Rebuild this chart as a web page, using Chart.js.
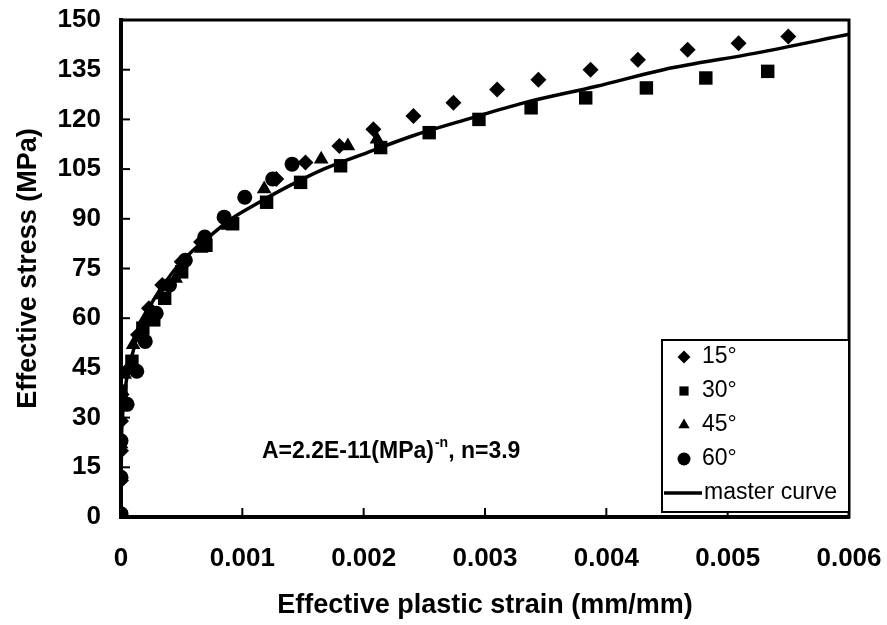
<!DOCTYPE html>
<html>
<head>
<meta charset="utf-8">
<script src="https://cdn.jsdelivr.net/npm/chart.js@4.4.0/dist/chart.umd.min.js"></script>
<style>
    html, body { margin: 0; padding: 0; background: #fff; }
    #wrap { width: 887px; height: 625px; }
</style>
</head>
<body>
<div id="wrap"><canvas id="chart"></canvas></div>
<script>
// values (strain in mm/mm, stress in MPa)
const strain15 = [0, 0, 0, 0, 0.000005, 0.00007, 0.00014, 0.00023, 0.00034, 0.0005, 0.00066, 0.00088, 0.00128, 0.00152, 0.0018, 0.00208, 0.00241, 0.00274, 0.0031, 0.00344, 0.00387, 0.00426, 0.00467, 0.00509, 0.0055];
const stress15 = [0, 11, 20, 29, 37, 45, 55, 63, 70, 77, 83, 89, 102, 107, 112, 117, 121, 125, 129, 132, 135, 138, 141, 143, 145];

const strain30 = [0, 0, 0.00009, 0.00018, 0.00027, 0.00036, 0.0005, 0.0007, 0.00092, 0.0012, 0.00148, 0.00181, 0.00214, 0.00254, 0.00295, 0.00338, 0.00383, 0.00433, 0.00482, 0.00533];
const stress30 = [0, 38, 47, 57, 59.5, 66, 74, 82, 88.5, 95, 101, 106, 111.5, 116, 120, 123.5, 126.5, 129.5, 132.5, 134.5];

const strain45 = [0, 0, 0.000005, 0.00003, 0.0001, 0.0002, 0.00032, 0.00045, 0.00066, 0.00088, 0.00118, 0.00165, 0.00187, 0.00211];
const stress45 = [0, 22, 34, 43, 52, 60, 67, 72, 81, 88, 99, 108, 112, 114];

const strain60 = [0, 0, 0, 0.00005, 0.00013, 0.0002, 0.00029, 0.0004, 0.00053, 0.00069, 0.00085, 0.00102, 0.00125, 0.00141];
const stress60 = [1, 12, 23, 34, 44, 53, 61.5, 70, 77.5, 84.5, 90.5, 96.5, 102, 106.5];

// master curve
const strainMaster = [0, 0.000003, 0.000012, 0.000023, 0.00004, 0.000062, 0.0001, 0.000135, 0.00019, 0.00026, 0.00035, 0.00045, 0.00058, 0.00074, 0.00091, 0.00114, 0.00139, 0.00167, 0.00203, 0.0024, 0.00285, 0.00332, 0.00392, 0.00447, 0.00523, 0.006];
const stressMaster = [0, 20, 30, 35, 40, 45, 50, 55, 60, 65, 70, 75, 80, 85, 90, 95, 100, 105, 110, 115, 120, 125, 130, 135, 140, 145.7];

const yTicks = [0, 15, 30, 45, 60, 75, 90, 105, 120, 135, 150];
const seriesLabels = ['15°', '30°', '45°', '60°', 'master curve'];

const FONT = '"Liberation Sans", Arial, sans-serif';

const toPoints = (xs, ys) => xs.map((x, i) => ({ x: x, y: ys[i] }));

const markerSet = (label, xs, ys, style, radius) => ({
    label: label,
    data: toPoints(xs, ys),
    showLine: false,
    pointStyle: style,
    pointRadius: radius,
    pointHoverRadius: radius,
    pointBackgroundColor: '#000',
    pointBorderColor: '#000',
    pointBorderWidth: 0
});

// keep the plot box where the original has it, whatever the labels overhang
const noOverhang = scale => {
    scale.paddingLeft = 0;
    scale.paddingRight = 0;
    scale.paddingTop = 0;
    scale.paddingBottom = 0;
};

// frame, inward tick marks, annotation and the boxed legend
const decorations = {
    id: 'decorations',
    afterDatasetsDraw(chart) {
        const { ctx, chartArea: a, scales } = chart;
        ctx.save();
        ctx.strokeStyle = '#000';

        // tick marks pointing into the plot
        ctx.lineWidth = 2;
        scales.y.ticks.forEach(t => {
            const py = scales.y.getPixelForValue(t.value);
            ctx.beginPath();
            ctx.moveTo(a.left, py);
            ctx.lineTo(a.left + 9, py);
            ctx.stroke();
        });
        scales.x.ticks.forEach(t => {
            const px = scales.x.getPixelForValue(t.value);
            ctx.beginPath();
            ctx.moveTo(px, a.bottom);
            ctx.lineTo(px, a.bottom - 9);
            ctx.stroke();
        });

        // plot frame
        ctx.lineWidth = 3;
        ctx.strokeRect(a.left, a.top, a.right - a.left, a.bottom - a.top);

        // fit annotation
        ctx.fillStyle = '#000';
        ctx.textBaseline = 'alphabetic';
        ctx.textAlign = 'left';
        let tx = a.left + 141;
        const ty = a.bottom - 59;
        ctx.font = 'bold 23px ' + FONT;
        const part1 = 'A=2.2E-11(MPa)';
        ctx.fillText(part1, tx, ty);
        tx += ctx.measureText(part1).width + 1;
        ctx.font = 'bold 14px ' + FONT;
        ctx.fillText('-n', tx, ty - 11);
        tx += ctx.measureText('-n').width;
        ctx.font = 'bold 23px ' + FONT;
        ctx.fillText(', n=3.9', tx, ty);

        // legend box, sitting just above the x axis
        const lx = 662, ly = 340, lw = a.right - 662, lh = a.bottom - 5 - 340;
        ctx.fillStyle = '#fff';
        ctx.fillRect(lx, ly, lw, lh);
        ctx.lineWidth = 2;
        ctx.strokeRect(lx, ly, lw, lh);
        ctx.fillStyle = '#000';
        ctx.font = '23px ' + FONT;
        ctx.textBaseline = 'middle';
        const rowH = 34;
        chart.data.datasets.forEach((ds, i) => {
            const cy = ly + 17 + i * rowH;
            if (ds.showLine) {
                ctx.lineWidth = 3.5;
                ctx.beginPath();
                ctx.moveTo(lx + 2, cy);
                ctx.lineTo(lx + 40, cy);
                ctx.stroke();
                ctx.fillText(ds.label, lx + 42, cy);
            } else {
                Chart.helpers.drawPoint(ctx, { pointStyle: ds.pointStyle, rotation: 0, radius: 6.5, borderWidth: 0 }, lx + 22, cy);
                ctx.fillText(ds.label, lx + 40, cy);
            }
        });
        ctx.restore();
    }
};

new Chart(document.getElementById('chart').getContext('2d'), {
    type: 'scatter',
    data: {
        datasets: [
            markerSet(seriesLabels[0], strain15, stress15, 'rectRot', 8),
            markerSet(seriesLabels[1], strain30, stress30, 'rect', 9.5),
            markerSet(seriesLabels[2], strain45, stress45, 'triangle', 8.5),
            markerSet(seriesLabels[3], strain60, stress60, 'circle', 7.5),
            {
                label: seriesLabels[4],
                data: toPoints(strainMaster, stressMaster),
                showLine: true,
                borderColor: '#000',
                borderWidth: 3.5,
                pointRadius: 0,
                cubicInterpolationMode: 'monotone',
                fill: false
            }
        ]
    },
    options: {
        responsive: true,
        maintainAspectRatio: false,
        animation: false,
        layout: {
            padding: { top: 20, right: 38, left: 0, bottom: 0 }
        },
        plugins: {
            legend: { display: false },
            tooltip: { enabled: false }
        },
        scales: {
            x: {
                type: 'linear',
                min: 0,
                max: 0.006,
                afterFit: scale => { scale.height = 108; noOverhang(scale); },
                grid: { display: false, drawTicks: false },
                border: { display: true, color: '#000', width: 4 },
                ticks: {
                    stepSize: 0.001,
                    autoSkip: false,
                    maxRotation: 0,
                    padding: 26,
                    color: '#000',
                    font: { family: FONT, size: 26, weight: 'bold' },
                    callback: v => String(+v.toFixed(3))
                },
                title: {
                    display: true,
                    text: 'Effective plastic strain (mm/mm)',
                    color: '#000',
                    font: { family: FONT, size: 27, weight: 'bold' },
                    padding: { top: 0, bottom: 3 }
                }
            },
            y: {
                type: 'linear',
                min: 0,
                max: 150,
                afterFit: scale => { scale.width = 121; noOverhang(scale); },
                afterBuildTicks: scale => { scale.ticks = yTicks.map(v => ({ value: v })); },
                grid: { display: false, drawTicks: false },
                border: { display: true, color: '#000', width: 4 },
                ticks: {
                    autoSkip: false,
                    padding: 20,
                    color: '#000',
                    font: { family: FONT, size: 26, weight: 'bold' }
                },
                title: {
                    display: true,
                    text: 'Effective stress (MPa)',
                    color: '#000',
                    font: { family: FONT, size: 27, weight: 'bold' },
                    padding: { top: 12, bottom: 0 }
                }
            }
        }
    },
    plugins: [decorations]
});
</script>
</body>
</html>
